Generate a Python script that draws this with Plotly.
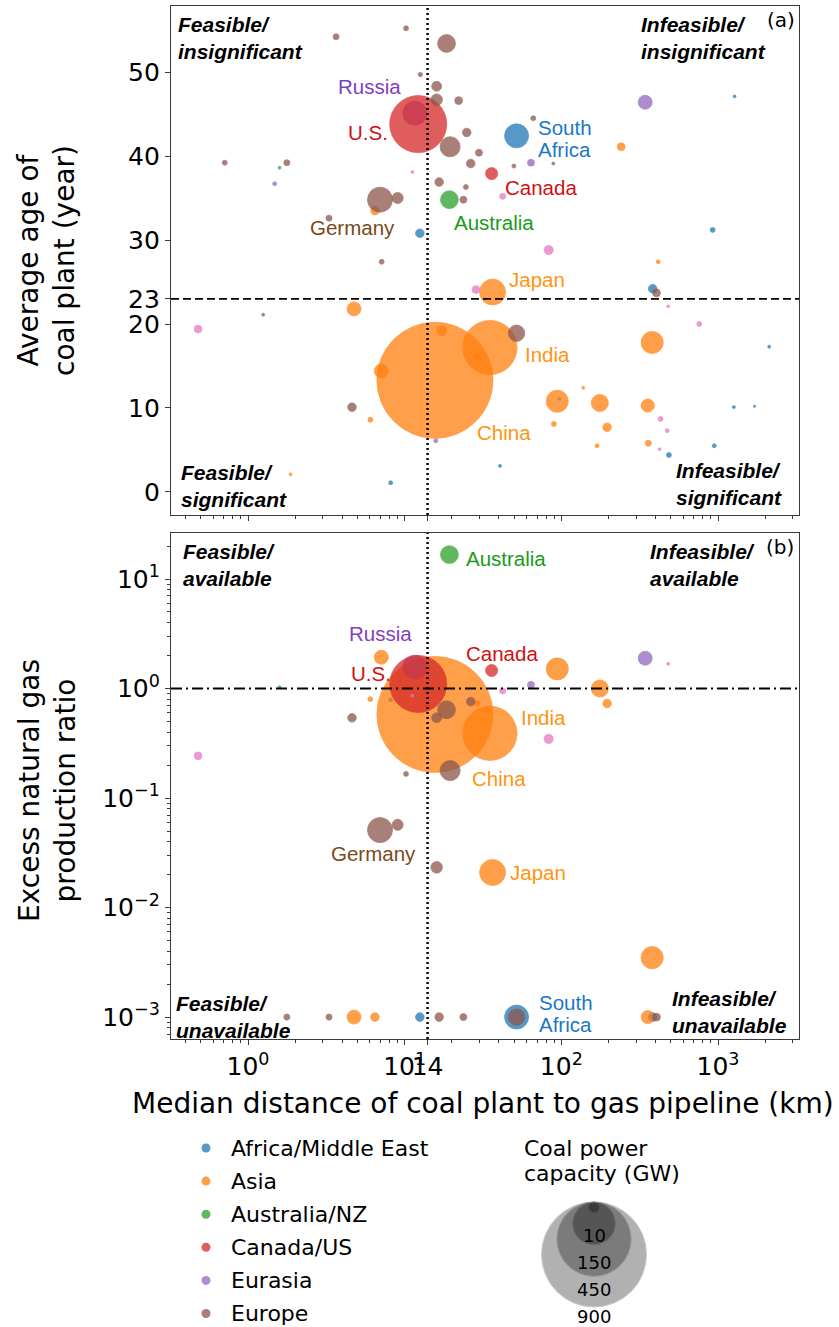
import math
import plotly.graph_objects as go

# ------------------------------------------------------------------
# Country-level data (one entry per country)
# region codes: AF Africa/Middle East, AS Asia, AU Australia/NZ,
# NA Canada/US, EA Eurasia, EU Europe, LA Latin America
# gas_ratio is None where the country has no gas production record
# ------------------------------------------------------------------
region = [
    "EU", "EU", "EU", "EA", "NA", "EU", "EU", "EU", "EU", "EU",
    "EU", "EU", "EU", "EU", "AF", "EA", "EU", "AS", "EA", "AF",
    "EU", "NA", "EU", "EU", "LA", "EU", "AU", "LA", "AF", "AS",
    "AS", "LA", "AF", "EU", "LA", "LA", "AF", "EU", "EU", "AU",
    "EA", "LA", "EU", "EU", "AS", "EU", "EU", "AS", "LA", "EU",
    "AS", "EU", "AS", "AS", "AF", "AS", "AS", "AS", "EU", "EA",
    "AF", "AS", "AF", "AS", "AS", "AS", "AS", "AS", "AS", "AS",
    "AS", "LA", "LA", "LA", "AF", "AF", "AF", "AF", "AF", "AS",
]
distance_km = [
    3.65, 10.2, 12.6, 11.6, 12.2, 18.5, 16.0, 16.0, 22.1, 24.9,
    19.5, 29.8, 26.4, 66.2, 51.8, 64.0, 88.8, 241, 343, 1276,
    49.8, 35.9, 16.6, 24.6, 42.2, 23.7, 19.3, 83.0, 924, 415,
    36.4, 28.5, 383, 405, 481, 759, 12.5, 0.71, 1.77, 1.59,
    1.48, 11.2, 6.96, 9.02, 6.46, 3.29, 7.13, 4.75, 0.48, 1.25,
    7.09, 4.61, 6.04, 1.87, 8.14, 15.6, 17.2, 35.0, 51.8, 15.8,
    40.6, 94.2, 97.0, 138, 176, 89.7, 196, 169, 380, 356,
    359, 430, 474, 424, 486, 946, 1262, 1710, 2121, 29.0,
]
plant_age = [
    54.2, 55.2, 49.7, 45.1, 43.8, 53.4, 48.3, 46.7, 46.6, 42.8,
    41.1, 40.4, 39.1, 44.5, 42.4, 39.2, 39.1, 41.1, 46.4, 47.1,
    38.8, 37.9, 36.9, 36.3, 35.2, 34.8, 34.8, 28.8, 31.2, 27.4,
    23.8, 24.1, 24.2, 23.7, 22.1, 20.0, 30.8, 39.2, 39.2, 38.6,
    36.7, 38.1, 34.8, 35.0, 33.5, 32.6, 27.4, 21.8, 19.4, 21.1,
    14.4, 10.1, 8.6, 2.1, 1.1, 13.3, 19.2, 17.2, 18.9, 6.1,
    3.1, 10.8, 11.1, 12.4, 10.6, 8.1, 7.7, 5.5, 17.8, 10.3,
    5.8, 8.7, 7.3, 5.1, 4.4, 5.5, 10.1, 10.2, 17.3, 16.0,
]
gas_ratio = [
    None, 0.166, None, 1.57, 1.10, 0.64, 0.54, 0.0233, None, None,
    0.178, None, 0.76, None, 0.001, 1.08, None, None, 1.89, None,
    None, 1.46, 0.001, None, 0.95, 0.001, 16.7, 0.347, None, None,
    0.0209, None, 0.001, 0.001, 1.68, None, 0.001, None, 0.001, 1.03,
    None, 0.86, 0.051, 0.057, 0.001, 0.001, None, 0.001, 0.243, None,
    1.93, 0.54, 0.80, None, 0.79, 0.58, None, 0.39, 0.001, None,
    None, 1.51, None, None, 1.0, None, 0.73, None, 0.00349, 0.001,
    None, None, None, None, None, None, None, None, None, 0.73,
]
capacity_gw = [
    3, 2, 1.5, 47, 265, 26, 8, 11, 5, 6,
    33, 4, 6, 2, 47, 4, 0.7, 5, 16, 0.7,
    1.3, 12, 6, 2, 3, 4, 26, 7, 2, 1.3,
    55, 5, 6, 5, 0.7, 2, 6, 2, 3, 0.7,
    1.3, 0.7, 51, 10, 6, 3, 2, 16, 5, 0.7,
    16, 6, 2, 0.7, 1.3, 1100, 8, 240, 22, 1.3,
    0.7, 40, 0.7, 0.7, 24, 2, 6, 1.3, 40, 14,
    3, 2, 1.3, 0.7, 2, 1.3, 0.7, 0.4, 0.7, 3,
]

# thresholds separating the quadrants
DIST_THRESHOLD = 14
AGE_THRESHOLD = 23
RATIO_THRESHOLD = 1.0

# legend content
draw_order = ["AF", "AS", "AU", "EA", "NA", "EU", "LA"]
region_names = {
    "AF": "Africa/Middle East", "AS": "Asia", "AU": "Australia/NZ",
    "NA": "Canada/US", "EA": "Eurasia", "EU": "Europe", "LA": "Latin America",
}
legend_regions = ["AF", "AS", "AU", "NA", "EA", "EU"]
size_legend_gw = [900, 450, 150, 10]
size_legend_labels = ["10", "150", "450", "900"]

# ------------------------------------------------------------------
# styling
# ------------------------------------------------------------------
COLORS = {
    "AF": "#1f77b4", "AS": "#ff7f0e", "AU": "#2ca02c", "NA": "#d62728",
    "EA": "#9467bd", "EU": "#8c564b", "LA": "#e377c2",
}
ALPHA = 0.75
PX_PER_SQRT_GW = 3.5          # bubble diameter = k * sqrt(capacity)
FONT = "DejaVu Sans"
LABEL_FONT = "Liberation Sans"
FRAME = "#3a3a3a"

W, H = 839, 1327
ML, MR, MT, MB = 171, 40, 6, 0
PW, PH = W - ML - MR, H - MT - MB


def px_x(px):
    """figure pixel column -> paper x"""
    return (px - ML) / PW


def px_y(py):
    """figure pixel row -> paper y"""
    return (H - MB - py) / PH


def diameter(gw):
    return PX_PER_SQRT_GW * math.sqrt(gw)


fig = go.Figure()

# ------------------------------------------------------------------
# bubbles
# ------------------------------------------------------------------
for code in draw_order:
    idx = [i for i, r in enumerate(region) if r == code]
    fig.add_trace(go.Scatter(
        x=[distance_km[i] for i in idx],
        y=[plant_age[i] for i in idx],
        mode="markers",
        marker=dict(size=[diameter(capacity_gw[i]) for i in idx],
                    sizemode="diameter", color=COLORS[code], opacity=ALPHA,
                    line=dict(color=COLORS[code], width=0.8)),
        xaxis="x", yaxis="y", showlegend=False, cliponaxis=True,
        name=region_names[code],
    ))
for code in draw_order:
    idx = [i for i, r in enumerate(region) if r == code and gas_ratio[i] is not None]
    fig.add_trace(go.Scatter(
        x=[distance_km[i] for i in idx],
        y=[gas_ratio[i] for i in idx],
        mode="markers",
        marker=dict(size=[diameter(capacity_gw[i]) for i in idx],
                    sizemode="diameter", color=COLORS[code], opacity=ALPHA,
                    line=dict(color=COLORS[code], width=0.8)),
        xaxis="x2", yaxis="y2", showlegend=False, cliponaxis=True,
        name=region_names[code],
    ))

# ------------------------------------------------------------------
# region legend and capacity key (pixel-scaled helper axes)
# ------------------------------------------------------------------
fig.add_trace(go.Scatter(
    x=[206] * len(legend_regions),
    y=[1148 + 33.1 * i for i in range(len(legend_regions))],
    mode="markers",
    marker=dict(size=9, color=[COLORS[c] for c in legend_regions], opacity=ALPHA),
    xaxis="x3", yaxis="y3", showlegend=False, cliponaxis=False, hoverinfo="skip",
))
key_d = [diameter(v) for v in size_legend_gw]
fig.add_trace(go.Scatter(
    x=[594] * len(size_legend_gw),
    y=[1202 + d / 2 for d in key_d],
    mode="markers",
    marker=dict(size=key_d, sizemode="diameter", color="black", opacity=0.3,
                line=dict(color="#555555", width=1)),
    xaxis="x3", yaxis="y3", showlegend=False, cliponaxis=False, hoverinfo="skip",
))

annotations = []
for i, code in enumerate(legend_regions):
    annotations.append(dict(
        x=229, y=1148 + 33.1 * i, xref="x3", yref="y3", text=region_names[code],
        showarrow=False, xanchor="left", yanchor="middle",
        font=dict(family=FONT, size=22, color="black")))
for i, lab in enumerate(size_legend_labels):
    annotations.append(dict(
        x=594, y=1235 + 27.3 * i, xref="x3", yref="y3", text=lab,
        showarrow=False, xanchor="center", yanchor="middle",
        font=dict(family=FONT, size=18, color="black")))
for txt, yy in [("Coal power", 1148), ("capacity (GW)", 1173)]:
    annotations.append(dict(
        x=522, y=yy, xref="x3", yref="y3", text=txt, showarrow=False,
        xanchor="left", yanchor="middle",
        font=dict(family=FONT, size=22, color="black")))

# ------------------------------------------------------------------
# country labels (each text line placed separately for tight spacing)
# ------------------------------------------------------------------
LBL = {"purple": "#7f3fbf", "red": "#d01010", "blue": "#1878c8",
       "green": "#1a9a1a", "brown": "#7a4a1a", "orange": "#ff950e"}
labels_a = [
    ("Russia", 6.0, 48.3, "center", "purple"),
    ("U.S.", 5.86, 42.8, "center", "red"),
    ("South", 69.6, 43.45, "left", "blue"),
    ("Africa", 69.6, 40.83, "left", "blue"),
    ("Canada", 43.2, 36.3, "left", "red"),
    ("Australia", 20.4, 32.1, "left", "green"),
    ("Germany", 4.66, 31.5, "center", "brown"),
    ("Japan", 45.4, 25.3, "left", "orange"),
    ("India", 58.0, 16.4, "left", "orange"),
    ("China", 28.4, 7.06, "left", "orange"),
]
labels_b = [
    ("Australia", 24.3, 15.5, "left", "green"),
    ("Russia", 6.96, 3.16, "center", "purple"),
    ("U.S.", 6.1, 1.36, "center", "red"),
    ("Canada", 41.6, 2.10, "center", "red"),
    ("India", 54.4, 0.547, "left", "orange"),
    ("China", 26.5, 0.150, "left", "orange"),
    ("Germany", 6.3, 0.0313, "center", "brown"),
    ("Japan", 46.5, 0.021, "left", "orange"),
    ("South", 71.2, 0.001365, "left", "blue"),
    ("Africa", 71.2, 0.000859, "left", "blue"),
]
for txt, xv, yv, anc, col in labels_a:
    annotations.append(dict(
        x=math.log10(xv), y=yv, xref="x", yref="y", text=txt, showarrow=False,
        xanchor=anc, yanchor="middle", align="left", borderpad=0,
        font=dict(family=LABEL_FONT, size=20.5, color=LBL[col])))
for txt, xv, yv, anc, col in labels_b:
    annotations.append(dict(
        x=math.log10(xv), y=math.log10(yv), xref="x2", yref="y2", text=txt,
        showarrow=False, xanchor=anc, yanchor="middle", align="left", borderpad=0,
        font=dict(family=LABEL_FONT, size=20.5, color=LBL[col])))

# quadrant captions
quad = [
    ("Feasible/<br>insignificant", 176, 37.5),
    ("Infeasible/<br>insignificant", 639, 37.5),
    ("Feasible/<br>significant", 179, 486),
    ("Infeasible/<br>significant", 674, 484),
    ("Feasible/<br>available", 181, 565),
    ("Infeasible/<br>available", 648, 565),
    ("Feasible/<br>unavailable", 174, 1017),
    ("Infeasible/<br>unavailable", 670, 1012),
]
for txt, xp, yp in quad:
    annotations.append(dict(
        x=px_x(xp), y=px_y(yp), xref="paper", yref="paper",
        text="<b><i>" + txt + "</i></b>", showarrow=False,
        xanchor="left", yanchor="middle", align="left",
        font=dict(family=LABEL_FONT, size=21, color="black")))
for txt, xp, yp in [("(a)", 781, 20), ("(b)", 780, 547)]:
    annotations.append(dict(
        x=px_x(xp), y=px_y(yp), xref="paper", yref="paper", text=txt,
        showarrow=False, xanchor="center", yanchor="middle",
        font=dict(family=FONT, size=20, color="black")))

# axis titles
annotations.append(dict(
    x=px_x(47), y=px_y(260), xref="paper", yref="paper",
    text="Average age of<br>coal plant (year)", textangle=-90, showarrow=False,
    xanchor="center", yanchor="middle", font=dict(family=FONT, size=28, color="black")))
annotations.append(dict(
    x=px_x(47), y=px_y(790), xref="paper", yref="paper",
    text="Excess natural gas<br>production ratio", textangle=-90, showarrow=False,
    xanchor="center", yanchor="middle", font=dict(family=FONT, size=28, color="black")))
annotations.append(dict(
    x=px_x(483), y=px_y(1103), xref="paper", yref="paper",
    text="Median distance of coal plant to gas pipeline (km)", showarrow=False,
    xanchor="center", yanchor="middle", font=dict(family=FONT, size=28, color="black")))

# ------------------------------------------------------------------
# threshold lines
# ------------------------------------------------------------------
shapes = [
    dict(type="line", xref="x", yref="y domain", x0=DIST_THRESHOLD,
         x1=DIST_THRESHOLD, y0=0, y1=1,
         line=dict(color="black", width=2.5, dash="2px,3px")),
    dict(type="line", xref="x2", yref="y2 domain", x0=DIST_THRESHOLD,
         x1=DIST_THRESHOLD, y0=0, y1=1,
         line=dict(color="black", width=2.5, dash="2px,3px")),
    dict(type="line", xref="x domain", yref="y", x0=0, x1=1,
         y0=AGE_THRESHOLD, y1=AGE_THRESHOLD,
         line=dict(color="black", width=1.8, dash="8px,4px")),
    dict(type="line", xref="x2 domain", yref="y2", x0=0, x1=1,
         y0=RATIO_THRESHOLD, y1=RATIO_THRESHOLD,
         line=dict(color="black", width=1.8, dash="11px,4px,2px,4px")),
]

# ------------------------------------------------------------------
# axes
# ------------------------------------------------------------------
X_RANGE = [-0.4915, 3.517]
x_major = [1, 10, DIST_THRESHOLD, 100, 1000]
x_major_text = ["10<sup>0</sup>", "10<sup>1</sup>", str(DIST_THRESHOLD),
                "10<sup>2</sup>", "10<sup>3</sup>"]
x_minor = [k * 10 ** e for e in range(-1, 4) for k in range(2, 10)
           if X_RANGE[0] < math.log10(k * 10 ** e) < X_RANGE[1]]
Y2_RANGE = [-3.2, 1.42]
y2_major = [1e-3, 1e-2, 1e-1, 1, 10]
y2_major_text = ["10<sup>\u22123</sup>", "10<sup>\u22122</sup>", "10<sup>\u22121</sup>",
                 "10<sup>0</sup>", "10<sup>1</sup>"]
y2_minor = [k * 10 ** e for e in range(-4, 2) for k in range(2, 10)
            if Y2_RANGE[0] < math.log10(k * 10 ** e) < Y2_RANGE[1]]
age_ticks = [0, 10, 20, AGE_THRESHOLD, 30, 40, 50]

common = dict(showline=True, linecolor=FRAME, linewidth=1.3, mirror=True,
              ticks="outside", ticklen=5, tickwidth=1.2, tickcolor=FRAME,
              showgrid=False, zeroline=False, tickangle=0,
              tickfont=dict(family=FONT, size=25, color="black"))
minor_x = dict(tickvals=x_minor, ticks="outside", ticklen=3, tickwidth=1,
               tickcolor=FRAME, showgrid=False)

fig.update_layout(
    width=W, height=H, margin=dict(l=ML, r=MR, t=MT, b=MB),
    paper_bgcolor="white", plot_bgcolor="white", showlegend=False,
    xaxis=dict(type="log", range=X_RANGE, domain=[0, 1], anchor="y",
               tickvals=x_major, ticktext=x_major_text, showticklabels=False,
               minor=minor_x, **common),
    yaxis=dict(range=[-2.74, 57.86], domain=[px_y(515), px_y(6)], anchor="x",
               tickvals=age_ticks, ticktext=[str(v) for v in age_ticks], **common),
    xaxis2=dict(type="log", range=X_RANGE, domain=[0, 1], anchor="y2",
                tickvals=x_major, ticktext=x_major_text, matches="x",
                minor=minor_x, **common),
    yaxis2=dict(type="log", range=Y2_RANGE, domain=[px_y(1039), px_y(533)],
                anchor="x2", tickvals=y2_major, ticktext=y2_major_text,
                minor=dict(tickvals=y2_minor, ticks="outside", ticklen=3,
                           tickwidth=1, tickcolor=FRAME, showgrid=False),
                **common),
    xaxis3=dict(range=[ML, W - MR], domain=[0, 1], anchor="y3", visible=False,
                fixedrange=True),
    yaxis3=dict(range=[H, 1125], domain=[0, px_y(1125)], anchor="x3",
                visible=False, fixedrange=True),
    shapes=shapes, annotations=annotations,
)

fig.write_html("out.html")
